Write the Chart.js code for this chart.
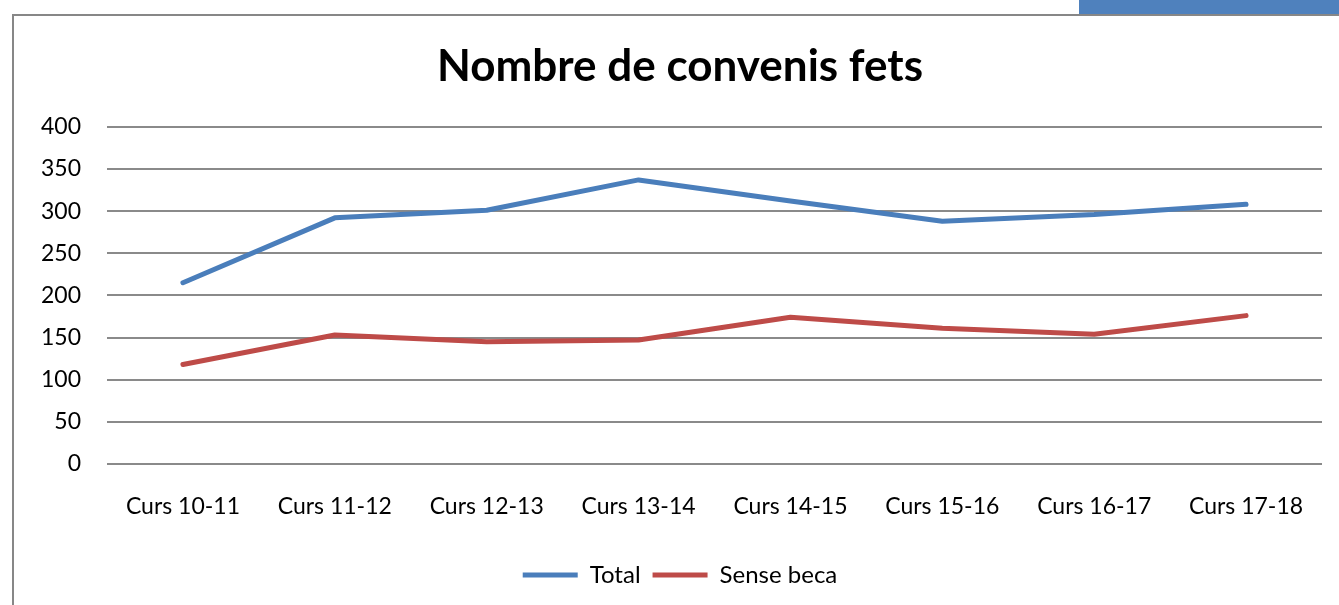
<!DOCTYPE html>
<html>
<head>
<meta charset="utf-8">
<script src="https://cdn.jsdelivr.net/npm/chart.js@4"></script>
<style>
  html, body { margin: 0; padding: 0; background: #fff; overflow: hidden; }
  #wrap { position: relative; width: 1339px; height: 605px; }
  #frame { position: absolute; left: 12px; top: 14px; width: 1400px; height: 700px;
           border-left: 2px solid #878787; border-top: 2px solid #878787; }
  #tab { position: absolute; left: 1079px; top: 0; width: 260px; height: 14px; background: #4F81BD; }
  canvas { position: absolute; left: 0; top: 0; }
</style>
</head>
<body>
<div id="wrap">
  <div id="frame"></div>
  <div id="tab"></div>
  <canvas id="c" width="1339" height="605"></canvas>
</div>
<script>
const categories = ["Curs 10-11", "Curs 11-12", "Curs 12-13", "Curs 13-14", "Curs 14-15", "Curs 15-16", "Curs 16-17", "Curs 17-18"];
const totalValues = [215, 292, 301, 337, 312, 288, 296, 308];
const senseBecaValues = [118, 153, 145, 147, 174, 161, 154, 176];
const seriesNames = ["Total", "Sense beca"];
const chartTitle = "Nombre de convenis fets";

const FONT = "Lato, 'Open Sans', sans-serif";

new Chart(document.getElementById('c'), {
  type: 'line',
  data: {
    labels: categories,
    datasets: [
      { label: seriesNames[0], data: totalValues, borderColor: '#4A7EBB', backgroundColor: '#4A7EBB',
        borderWidth: 5, pointRadius: 0, pointHoverRadius: 0, tension: 0,
        borderCapStyle: 'round', borderJoinStyle: 'round' },
      { label: seriesNames[1], data: senseBecaValues, borderColor: '#BE4B48', backgroundColor: '#BE4B48',
        borderWidth: 5, pointRadius: 0, pointHoverRadius: 0, tension: 0,
        borderCapStyle: 'round', borderJoinStyle: 'round' }
    ]
  },
  options: {
    responsive: false,
    animation: false,
    devicePixelRatio: 1,
    layout: { padding: { left: 38, right: 17, top: 0, bottom: 8 } },
    plugins: {
      title: {
        display: true, text: chartTitle, color: '#000',
        font: { family: FONT, size: 44, weight: 'bold', lineHeight: 1.2 },
        padding: { top: 40, bottom: 34 }
      },
      legend: {
        position: 'bottom',
        labels: {
          color: '#000', font: { family: FONT, size: 24 },
          usePointStyle: true, pointStyle: 'line', pointStyleWidth: 55, padding: 12
        }
      },
      tooltip: { enabled: false }
    },
    scales: {
      x: {
        offset: true,
        grid: { display: false, drawTicks: false, offset: true },
        border: { display: false },
        ticks: { color: '#000', font: { family: FONT, size: 23 }, padding: 29, maxRotation: 0, autoSkip: false },
        afterFit: (s) => { s.height = 87; }
      },
      y: {
        min: 0, max: 400,
        grid: { color: '#8A8A8A', lineWidth: 2, drawTicks: false },
        border: { display: false },
        ticks: { stepSize: 50, color: '#000', font: { family: FONT, size: 23 }, padding: 26 },
        afterFit: (s) => { s.width = 69; }
      }
    }
  }
});
</script>
</body>
</html>
